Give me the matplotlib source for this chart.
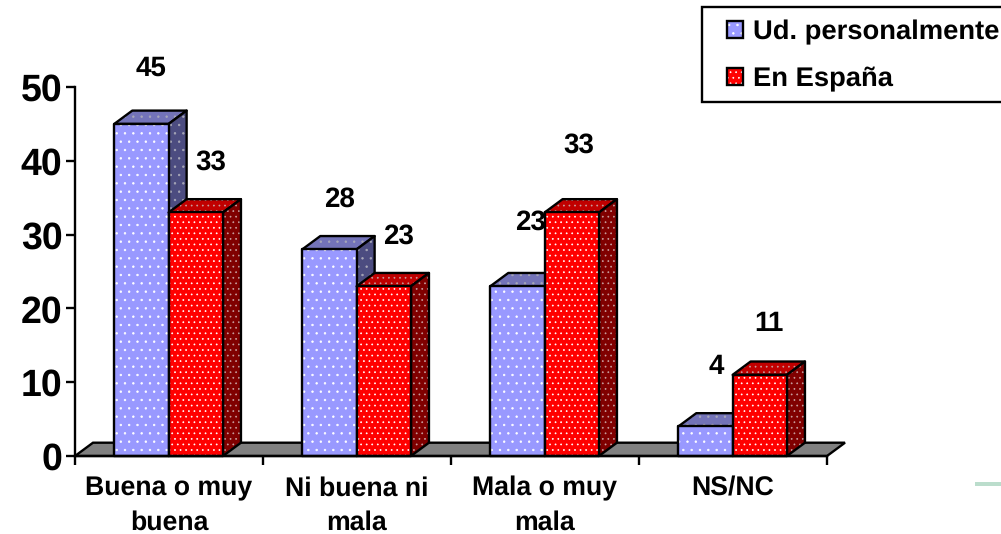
import matplotlib
matplotlib.use("Agg")
import matplotlib.pyplot as plt
from matplotlib.patches import Polygon, Rectangle

plt.rcParams['font.family'] = ['Liberation Sans', 'DejaVu Sans']
plt.rcParams['font.weight'] = 'bold'
plt.rcParams['hatch.linewidth'] = 0.5
plt.rcParams['text.hinting'] = 'no_hinting'

W, H = 1001, 534

categories = ['Buena o muy\nbuena', 'Ni buena ni\nmala', 'Mala o muy\nmala', 'NS/NC']
personal = [45, 28, 23, 4]
espana = [33, 23, 33, 11]
series_names = ['Ud. personalmente', 'En España']
yticks = [0, 10, 20, 30, 40, 50]

# label offsets from the bar's front top centre, pixels
personal_off = [(10, 55), (10, 50), (13, 64), (11, 60)]
espana_off = [(15, 50), (15, 50), (7, 67), (9, 51)]

BAR_START = 0.209
BAR_W = 0.289
DX = 18 / 188   # depth in x units
DY = 13.3 / 7.38  # depth in y units

blue = dict(front='#9999FF', side='#4C4C80', top='#7373B8', dot='white', dot_dark='#A8A8B8')
red = dict(front='#FF0000', side='#800000', top='#C00000', dot='white', dot_dark='#C8A0A0')


def face(ax, pts, color, hatch, dot):
    ax.add_patch(Polygon(pts, closed=True, facecolor=color, edgecolor=dot, hatch=hatch,
                         lw=0, clip_on=False))
    ax.add_patch(Polygon(pts, closed=True, fill=False, edgecolor='black', lw=1.7,
                         joinstyle='round', clip_on=False))


def bar3d(ax, x, w, h, c, hatch):
    face(ax, [(x, h), (x + DX, h + DY), (x + w + DX, h + DY), (x + w, h)], c['top'], hatch, c['dot_dark'])
    face(ax, [(x + w, 0), (x + w + DX, DY), (x + w + DX, h + DY), (x + w, h)], c['side'], hatch, c['dot_dark'])
    face(ax, [(x, 0), (x + w, 0), (x + w, h), (x, h)], c['front'], hatch, c['dot'])


fig = plt.figure(figsize=(W / 100, H / 100), dpi=100)
ax = fig.add_axes([75 / W, (H - 456) / H, 752 / W, 369 / H])
ax.set_xlim(0, len(categories))
ax.set_ylim(0, 50)

# floor
n = len(categories)
ax.add_patch(Polygon([(0, 0), (DX, DY), (n + DX, DY), (n, 0)], closed=True, facecolor='#808080',
                     edgecolor='black', lw=1.7, clip_on=False))

for i in range(n):
    x0 = i + BAR_START
    bar3d(ax, x0, BAR_W, personal[i], blue, '..')
    bar3d(ax, x0 + BAR_W, BAR_W, espana[i], red, '...')
    ax.annotate(str(personal[i]), (x0 + BAR_W / 2, personal[i]),
                xytext=(personal_off[i][0] * 0.72, personal_off[i][1] * 0.72),
                textcoords='offset points', ha='center', va='center', fontsize=20,
                fontweight='bold', annotation_clip=False, zorder=10)
    ax.annotate(str(espana[i]), (x0 + 1.5 * BAR_W, espana[i]),
                xytext=(espana_off[i][0] * 0.72, espana_off[i][1] * 0.72),
                textcoords='offset points', ha='center', va='center', fontsize=20,
                fontweight='bold', annotation_clip=False, zorder=10)

for s in ['top', 'right']:
    ax.spines[s].set_visible(False)
for s in ['left', 'bottom']:
    ax.spines[s].set_linewidth(1.7)
    ax.spines[s].set_zorder(5)

ax.set_yticks(yticks)
ax.set_yticklabels([str(v) for v in yticks], fontsize=27, fontweight='bold')
ax.tick_params(axis='y', length=6.5, width=1.7, pad=2.5)
ax.set_xticks(range(n + 1))
ax.set_xticklabels([])
ax.tick_params(axis='x', which='major', length=6.5, width=1.7)
ax.set_xticks([i + 0.5 for i in range(n)], minor=True)
ax.set_xticklabels(categories, minor=True, fontsize=19.2, fontweight='bold', linespacing=1.45)
ax.tick_params(axis='x', which='minor', length=0, pad=14.5)


# legend box, runs off the right edge like the reference
def px(x, y):
    return x / W, 1 - y / H


fig.add_artist(Rectangle(px(701.5, 102), 320 / W, 95 / H, facecolor='white', edgecolor='black', lw=1.7))
for name, c, hatch, ys in zip(series_names, [blue, red], ['..', '...'], [38, 85]):
    fig.add_artist(Rectangle(px(727, ys), 16 / W, 17 / H, facecolor=c['front'], edgecolor='white',
                             hatch=hatch, lw=0))
    fig.add_artist(Rectangle(px(727, ys), 16 / W, 17 / H, fill=False, edgecolor='black', lw=1.7))
    fig.text(*px(753, ys - 6), name, fontsize=19.7, fontweight='bold', va='center', ha='left')

# stray green strip bottom right
fig.add_artist(Rectangle(px(975, 486), 26 / W, 4 / H, facecolor='#BBDDCC', edgecolor='none'))

fig.savefig('out.png', dpi=100)
